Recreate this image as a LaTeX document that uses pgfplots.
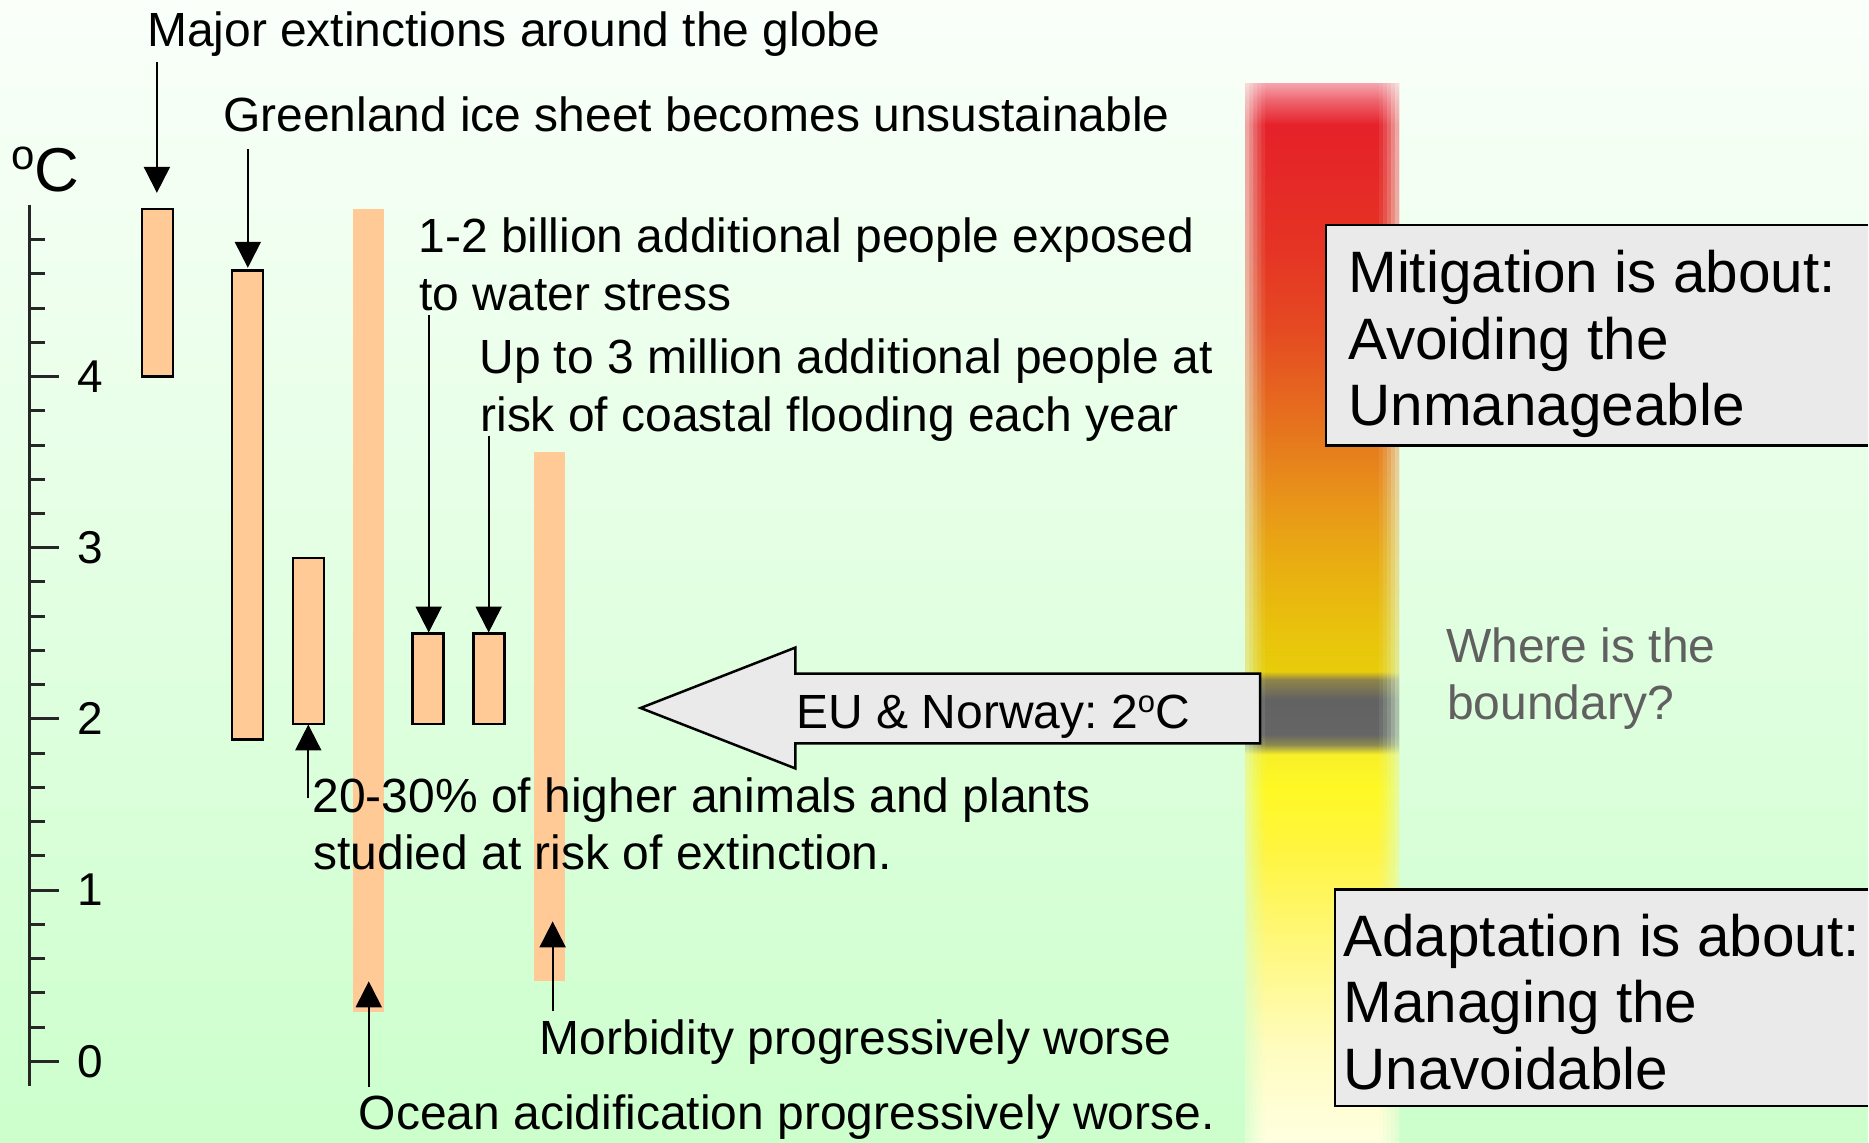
\documentclass[border=0pt]{standalone}
\usepackage{fontspec}
\setmainfont{Liberation Sans}
\usepackage{pgfplots}
\pgfplotsset{compat=1.18}
\usetikzlibrary{arrows.meta}

\definecolor{bgtop}{HTML}{FAFFFA}
\definecolor{bgstrip}{HTML}{F7FFF7}
\definecolor{bgbot}{HTML}{CCFFCC}
\definecolor{barfill}{HTML}{FFCA96}
\definecolor{boxfill}{HTML}{EAEAEA}
\definecolor{greytext}{HTML}{606060}
\definecolor{hA}{HTML}{FFFFE0}
\definecolor{hB}{HTML}{FFFCC0}
\definecolor{hC}{HTML}{FFF880}
\definecolor{hD}{HTML}{FFF540}
\definecolor{hE}{HTML}{FFF825}
\definecolor{hF}{HTML}{F8F028}
\definecolor{hG}{HTML}{8C8A50}
\definecolor{hH}{HTML}{656565}
\definecolor{hI}{HTML}{626262}
\definecolor{hJ}{HTML}{8E8448}
\definecolor{hK}{HTML}{E8CC0A}
\definecolor{hL}{HTML}{E9C20C}
\definecolor{hM}{HTML}{E9AC12}
\definecolor{hN}{HTML}{E8941A}
\definecolor{hO}{HTML}{E6701E}
\definecolor{hP}{HTML}{E54A22}
\definecolor{hQ}{HTML}{E53424}
\definecolor{hR}{HTML}{E52129}
\definecolor{hS}{HTML}{EE6670}
\definecolor{hT}{HTML}{F4A3AC}

\pgfdeclareverticalshading{heat}{100bp}{color(0bp)=(hA); color(25bp)=(hA); color(29.39bp)=(hB); color(34.11bp)=(hC); color(38.83bp)=(hD); color(41.67bp)=(hE); color(43.32bp)=(hF); color(43.79bp)=(hG); color(44.26bp)=(hH); color(45.92bp)=(hI); color(46.86bp)=(hJ); color(47.24bp)=(hK); color(49.22bp)=(hL); color(52.53bp)=(hM); color(55.36bp)=(hN); color(59.14bp)=(hO); color(63.39bp)=(hP); color(67.16bp)=(hQ); color(73.06bp)=(hR); color(74.24bp)=(hS); color(75bp)=(hT); color(100bp)=(hT)}

% pixel (x, y-from-top) -> axis coordinates (y in degrees C)
\newcommand{\pxy}[2]{(axis cs:#1,{(1062-(#2))/171.3})}
\newcommand{\tA}{\fontsize{48}{58}\selectfont}
\newcommand{\tB}{\fontsize{58.5}{67}\selectfont}
\frenchspacing

\begin{document}
\begin{tikzpicture}
\begin{axis}[
  scale only axis, width=1839pt, height=881.5pt,
  xmin=30, xmax=1869, ymin=-0.143, ymax=5.003,
  axis x line=none, axis y line*=left,
  axis line style={line width=3pt, black!85, -},
  ytick={0,1,2,3,4},
  minor ytick={0.2,0.4,0.6,0.8,1.2,1.4,1.6,1.8,2.2,2.4,2.6,2.8,3.2,3.4,3.6,3.8,4.2,4.4,4.6,4.8},
  tick align=inside,
  major tick length=29pt, minor tick length=15pt,
  every tick/.append style={line width=3pt, black!85},
  every major tick/.append style={line width=3pt, black!85},
  every minor tick/.append style={line width=3pt, black!85},
  yticklabel style={font=\fontsize{46}{46}\selectfont, anchor=center, xshift=60pt},
  /pgf/number format/assume math mode=true,
  clip=false, axis on top,
]
% background
\shade[top color=bgtop, bottom color=bgbot] \pxy{0}{0} rectangle \pxy{1869}{1143};

% colour scale with soft side edges
\shade[shading=heat] \pxy{1246}{84} rectangle \pxy{1400}{1143};
\foreach \a/\b/\o in {1246/1250/0.6, 1250/1254/0.45, 1254/1258/0.3, 1258/1262/0.18, 1262/1266/0.08,
                      1396/1400/0.6, 1392/1396/0.45, 1388/1392/0.3, 1384/1388/0.18, 1380/1384/0.08}{
  \edef\tmp{\noexpand\shade[top color=bgstrip, bottom color=bgbot, opacity=\o] \noexpand\pxy{\a}{84} rectangle \noexpand\pxy{\b}{1143};}
  \tmp
}

% boxes
\fill[boxfill] \pxy{1327}{225} rectangle \pxy{1869}{446};
\draw[line width=2.5pt] \pxy{1869}{225} -- \pxy{1327}{225} -- \pxy{1327}{446} -- \pxy{1869}{446};
\fill[boxfill] \pxy{1336}{890} rectangle \pxy{1869}{1107};
\draw[line width=2.5pt] \pxy{1869}{890} -- \pxy{1336}{890} -- \pxy{1336}{1107} -- \pxy{1869}{1107};

% big arrow
\filldraw[fill=boxfill, draw=black, line width=2.5pt] \pxy{641}{708.5} -- \pxy{796}{648} -- \pxy{796}{674} -- \pxy{1261}{674} -- \pxy{1261}{744} -- \pxy{796}{744} -- \pxy{796}{769} -- cycle;

% bars (temperature ranges, degrees C)
\addplot[fill=barfill, draw=black, line width=2.5pt] coordinates {(142,4.00) (173,4.00) (173,4.98) (142,4.98)} -- cycle;
\addplot[fill=barfill, draw=black, line width=2.5pt] coordinates {(232,1.88) (263,1.88) (263,4.62) (232,4.62)} -- cycle;
\addplot[fill=barfill, draw=black, line width=2.5pt] coordinates {(293,1.97) (324,1.97) (324,2.94) (293,2.94)} -- cycle;
\addplot[fill=barfill, draw=none] coordinates {(353,0.29) (384,0.29) (384,4.98) (353,4.98)} -- cycle;
\addplot[fill=barfill, draw=black, line width=2.5pt] coordinates {(413,1.97) (444,1.97) (444,2.50) (413,2.50)} -- cycle;
\addplot[fill=barfill, draw=black, line width=2.5pt] coordinates {(474,1.97) (505,1.97) (505,2.50) (474,2.50)} -- cycle;
\addplot[fill=barfill, draw=none] coordinates {(534,0.47) (565,0.47) (565,3.56) (534,3.56)} -- cycle;

% pointer arrows
\begin{scope}[line width=2pt, -{Triangle[width=26pt,length=26pt]}]
\draw \pxy{157}{62} -- \pxy{157}{193};
\draw \pxy{248}{149} -- \pxy{248}{268};
\draw \pxy{429}{315} -- \pxy{429}{633};
\draw \pxy{489}{436} -- \pxy{489}{633};
\draw \pxy{308.5}{799} -- \pxy{308.5}{725};
\draw \pxy{369}{1088} -- \pxy{369}{982};
\draw \pxy{553}{1012} -- \pxy{553}{922};
\end{scope}

% texts
\begin{scope}[every node/.style={inner sep=0pt, anchor=base west}]
\node[font=\fontsize{62}{62}\selectfont] at \pxy{11}{192} {\raisebox{22.5pt}{\fontsize{42}{42}\selectfont o}C};
\node[font=\tA] at \pxy{147}{46.5} {Major extinctions around the globe};
\node[font=\tA] at \pxy{223}{131.5} {Greenland ice sheet becomes unsustainable};
\node[font=\tA] at \pxy{418.5}{252.5} {1-2 billion additional people exposed};
\node[font=\tA] at \pxy{419.5}{310.5} {to water stress};
\node[font=\tA] at \pxy{479.5}{373.5} {Up to 3 million additional people at};
\node[font=\tA] at \pxy{480.5}{431.5} {risk of coastal flooding each year};
\node[font=\tA] at \pxy{312.5}{813.5} {20-30\% of higher animals and plants};
\node[font=\tA] at \pxy{313.5}{870.5} {studied at risk of extinction.};
\node[font=\tA] at \pxy{540}{1055.5} {Morbidity progressively worse};
\node[font=\tA] at \pxy{359}{1130.5} {Ocean acidification progressively worse.};
\node[font=\tA, text=greytext] at \pxy{1447}{662.5} {Where is the};
\node[font=\tA, text=greytext] at \pxy{1448}{719.5} {boundary?};
\node[font=\tA] at \pxy{797}{729} {EU \& Norway: 2\raisebox{16pt}{\fontsize{31}{31}\selectfont o}C};
\node[font=\tB] at \pxy{1349}{292.5} {Mitigation is about:};
\node[font=\tB] at \pxy{1349}{359.5} {Avoiding the};
\node[font=\tB] at \pxy{1349}{425.5} {Unmanageable};
\node[font=\tB] at \pxy{1344}{957.5} {Adaptation is about:};
\node[font=\tB] at \pxy{1344}{1023.5} {Managing the};
\node[font=\tB] at \pxy{1344}{1090.5} {Unavoidable};
\end{scope}
\end{axis}
\end{tikzpicture}
\end{document}
